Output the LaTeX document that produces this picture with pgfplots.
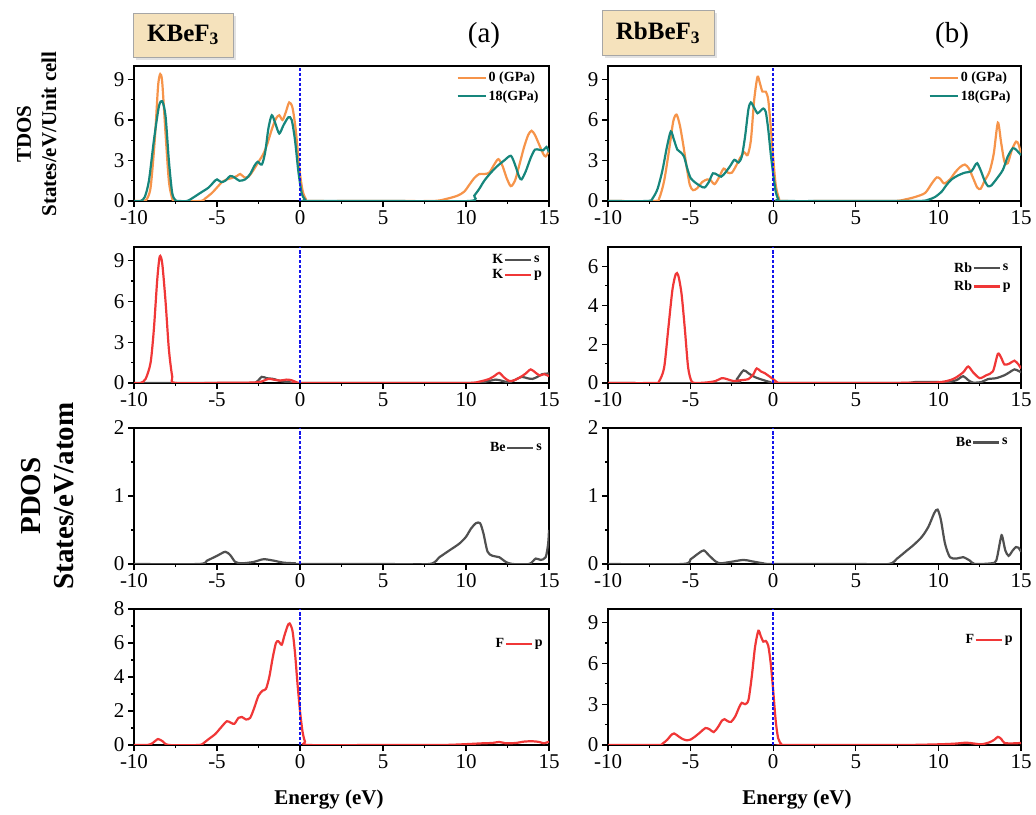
\documentclass[border=0pt]{standalone}
\usepackage{fontspec}
\setmainfont{Liberation Serif}
\usepackage{pgfplots}
\pgfplotsset{compat=1.18}
\usetikzlibrary{shadows}
\definecolor{corange}{RGB}{246,148,74}
\definecolor{cteal}{RGB}{22,134,124}
\definecolor{cred}{RGB}{240,55,55}
\definecolor{cgray}{RGB}{80,80,80}
\definecolor{cbox}{RGB}{245,226,188}
\definecolor{cfermi}{RGB}{20,20,235}
\pgfplotsset{
  dosax/.style={
    scale only axis,
    xmin=-10, xmax=15, ymin=0,
    xtick={-10,-5,0,5,10,15},
    minor x tick num=1, minor y tick num=1,
    tick align=outside,
    xtick pos=left, ytick pos=left,
    major tick length=6pt, minor tick length=3pt,
    every tick/.style={black, line width=1.1pt},
    axis line style={line width=1.6pt},
    tick label style={font=\fontsize{21}{23}\selectfont},
    /pgf/number format/assume math mode=true,
    legend style={draw=none, fill=none, inner sep=0pt, row sep=3pt,
      font=\bfseries\fontsize{14}{16}\selectfont, cells={anchor=west}},
    every axis plot/.append style={line width=2.2pt, smooth, tension=0.45},
  },
  fermi/.style={draw=cfermi, dash pattern=on 3pt off 2pt, line width=1.6pt, forget plot, smooth=false},
  lgtext/.style={legend image code/.code={\node[anchor=east,inner sep=0.5pt,text=black] at (0pt,0pt) {#1};\draw[##1] (0pt,0pt) -- (26pt,0pt);}},
  lgline/.style={legend image code/.code={\draw[##1] (0pt,0pt) -- (28pt,0pt);}},
}
\begin{document}
\begin{tikzpicture}[x=1pt,y=1pt]
\useasboundingbox (0,0) rectangle (1036,814);

% ---------------- Row 1 left: TDOS KBeF3
\begin{axis}[dosax, at={(134pt,613pt)}, width=415pt, height=135pt, ymax=10, ytick={0,3,6,9},
  legend style={at={(0.98,0.97)}, anchor=north east}, lgline]
\addplot[corange] coordinates {(-10,0)(-9.5,0)(-9.25,0.1)(-9.0,1.0)(-8.75,4.5)(-8.55,8.5)(-8.42,9.4)(-8.3,8.8)(-8.1,5.0)(-7.9,1.5)(-7.7,0.2)(-7.5,0)(-6.0,0)(-5.7,0.2)(-5.3,0.6)(-5.0,1.0)(-4.7,1.4)(-4.4,1.6)(-4.1,1.7)(-3.8,1.85)(-3.6,2.0)(-3.35,1.75)(-3.1,1.8)(-2.8,2.3)(-2.5,2.9)(-2.2,3.5)(-1.95,4.3)(-1.7,5.3)(-1.45,6.1)(-1.25,6.35)(-1.05,6.0)(-0.85,6.6)(-0.65,7.3)(-0.45,6.9)(-0.25,5.2)(-0.05,2.5)(0.15,0.8)(0.35,0.15)(0.6,0)(5,0)(8.0,0)(8.8,0.15)(9.5,0.4)(9.9,0.7)(10.2,1.2)(10.5,1.7)(10.8,2.0)(11.1,2.0)(11.4,2.1)(11.7,2.7)(11.95,3.1)(12.2,2.6)(12.45,1.7)(12.7,1.1)(12.95,1.5)(13.2,2.6)(13.5,4.0)(13.75,4.9)(13.95,5.2)(14.15,4.9)(14.4,4.2)(14.65,3.5)(14.8,3.3)(15,3.7)};
\addlegendentry{0 (GPa)}
\addplot[cteal] coordinates {(-10,0)(-9.6,0)(-9.35,0.3)(-9.1,1.5)(-8.8,4.5)(-8.5,7.0)(-8.3,7.4)(-8.1,6.3)(-7.9,3.0)(-7.7,0.6)(-7.5,0.05)(-7.3,0)(-6.8,0)(-6.5,0.2)(-6.0,0.6)(-5.5,1.0)(-5.2,1.4)(-5.0,1.6)(-4.75,1.4)(-4.5,1.5)(-4.2,1.85)(-3.95,1.75)(-3.65,1.5)(-3.3,1.6)(-3.0,2.0)(-2.75,2.6)(-2.55,2.9)(-2.3,2.7)(-2.1,3.6)(-1.9,5.4)(-1.7,6.35)(-1.5,5.8)(-1.25,5.0)(-1.0,5.6)(-0.7,6.2)(-0.5,6.0)(-0.3,4.5)(-0.1,2.2)(0.1,0.6)(0.3,0.1)(0.5,0)(5,0)(10.2,0)(10.5,0.4)(10.8,0.9)(11.1,1.5)(11.5,2.1)(11.9,2.6)(12.3,3.0)(12.7,3.35)(12.95,2.7)(13.2,1.8)(13.35,1.6)(13.6,2.2)(13.9,3.2)(14.15,3.8)(14.4,3.8)(14.65,3.75)(14.85,4.0)(15,3.6)};
\addlegendentry{18(GPa)}
\addplot[fermi] coordinates {(0,0)(0,10)};
\end{axis}

% ---------------- Row 1 right: TDOS RbBeF3
\begin{axis}[dosax, at={(608pt,613pt)}, width=413pt, height=135pt, ymax=10, ytick={0,3,6,9},
  legend style={at={(0.98,0.97)}, anchor=north east}, lgline]
\addplot[corange] coordinates {(-10,0)(-7.2,0)(-6.9,0.2)(-6.6,1.5)(-6.3,3.8)(-6.05,5.9)(-5.85,6.4)(-5.65,5.6)(-5.45,4.2)(-5.25,2.6)(-5.05,1.2)(-4.85,0.8)(-4.6,0.95)(-4.3,1.4)(-4.0,1.6)(-3.8,1.55)(-3.55,1.25)(-3.3,1.7)(-3.0,2.4)(-2.75,2.1)(-2.5,2.1)(-2.25,2.6)(-2.0,3.2)(-1.75,3.6)(-1.55,3.4)(-1.35,4.5)(-1.15,7.5)(-0.95,9.2)(-0.8,8.7)(-0.65,8.1)(-0.45,8.1)(-0.3,7.5)(-0.15,5.5)(0,3.2)(0.15,1.2)(0.35,0.2)(0.6,0)(4,0)(7.3,0)(8.0,0.12)(8.6,0.3)(9.2,0.6)(9.6,1.3)(9.9,1.75)(10.1,1.65)(10.35,1.3)(10.7,1.6)(11.0,2.1)(11.3,2.5)(11.6,2.7)(11.85,2.4)(12.1,1.7)(12.35,1.0)(12.55,0.9)(12.8,1.5)(13.1,2.2)(13.35,3.5)(13.6,5.8)(13.8,4.3)(14.0,2.9)(14.2,2.8)(14.45,3.8)(14.7,4.4)(14.85,4.2)(15,3.5)};
\addlegendentry{0 (GPa)}
\addplot[cteal] coordinates {(-10,0)(-7.6,0)(-7.3,0.2)(-7.0,0.9)(-6.7,2.3)(-6.45,3.9)(-6.2,5.15)(-6.0,4.5)(-5.8,3.8)(-5.6,3.6)(-5.4,3.3)(-5.2,2.4)(-5.0,1.7)(-4.7,1.35)(-4.4,1.1)(-4.15,1.0)(-3.9,1.4)(-3.65,2.05)(-3.4,1.95)(-3.15,1.8)(-2.9,2.1)(-2.6,2.6)(-2.35,3.05)(-2.1,2.85)(-1.9,3.3)(-1.7,4.8)(-1.5,6.8)(-1.35,7.3)(-1.15,6.9)(-0.95,6.5)(-0.75,6.7)(-0.6,6.85)(-0.45,6.6)(-0.3,5.3)(-0.15,3.5)(0,2.0)(0.15,0.7)(0.3,0.15)(0.5,0)(5,0)(8.8,0)(9.4,0.1)(9.8,0.3)(10.2,0.7)(10.5,1.2)(10.8,1.6)(11.2,1.9)(11.6,2.1)(12.0,2.2)(12.2,2.6)(12.35,2.8)(12.55,2.3)(12.8,1.5)(13.0,1.1)(13.2,1.15)(13.5,1.6)(13.9,2.3)(14.2,3.3)(14.5,3.9)(14.7,3.8)(15,3.4)};
\addlegendentry{18(GPa)}
\addplot[fermi] coordinates {(0,0)(0,10)};
\end{axis}

% ---------------- Row 2 left: K
\begin{axis}[dosax, at={(134pt,431pt)}, width=415pt, height=136pt, ymax=10, ytick={0,3,6,9},
  legend style={at={(0.988,0.95)}, anchor=north east}]
\addplot[cgray, lgtext=K] coordinates {(-10,0)(-3,0)(-2.6,0.1)(-2.3,0.45)(-2.0,0.35)(-1.6,0.3)(-1.2,0.15)(-0.6,0.05)(0,0)(5,0)(10.5,0)(11.2,0.1)(11.8,0.25)(12.2,0.15)(12.6,0.05)(13.0,0.25)(13.35,0.45)(13.7,0.35)(14.0,0.3)(14.3,0.45)(14.6,0.65)(15,0.7)};
\addlegendentry{s}
\addplot[cred, lgtext=K] coordinates {(-10,0)(-9.6,0)(-9.3,0.3)(-9.0,1.5)(-8.8,4.0)(-8.6,7.6)(-8.45,9.3)(-8.3,8.8)(-8.1,6.0)(-7.9,2.5)(-7.7,0.5)(-7.5,0)(-4.5,0.02)(-3,0.03)(-2.4,0.08)(-1.9,0.3)(-1.6,0.25)(-1.2,0.18)(-0.8,0.25)(-0.5,0.2)(-0.2,0.05)(0.1,0)(5,0)(10,0)(10.8,0.1)(11.4,0.3)(11.75,0.55)(12.0,0.75)(12.3,0.4)(12.6,0.15)(12.9,0.2)(13.3,0.45)(13.6,0.7)(13.9,1.0)(14.2,0.75)(14.45,0.55)(14.7,0.65)(15,0.5)};
\addlegendentry{p}
\addplot[fermi] coordinates {(0,0)(0,10)};
\end{axis}

% ---------------- Row 2 right: Rb
\begin{axis}[dosax, at={(608pt,431pt)}, width=413pt, height=136pt, ymax=7, ytick={0,2,4,6},
  legend style={at={(0.98,0.89)}, anchor=north east, row sep=6pt}]
\addplot[cgray, lgtext=Rb] coordinates {(-10,0)(-2.5,0)(-2.2,0.2)(-1.8,0.65)(-1.5,0.5)(-1.1,0.3)(-0.6,0.15)(-0.2,0.05)(0.2,0)(5,0)(8.0,0)(8.6,0.05)(9.6,0.05)(10.6,0.05)(11.1,0.15)(11.5,0.35)(11.8,0.15)(12.1,0.02)(12.6,0.05)(13.0,0.2)(13.5,0.25)(14.0,0.4)(14.3,0.55)(14.6,0.7)(14.85,0.62)(15,0.55)};
\addlegendentry{s}
\addplot[cred, lgtext=Rb] coordinates {(-10,0)(-7.2,0)(-6.9,0.1)(-6.6,0.8)(-6.35,2.8)(-6.1,4.8)(-5.9,5.6)(-5.75,5.55)(-5.55,4.6)(-5.35,2.8)(-5.15,0.8)(-4.95,0.1)(-4.7,0)(-4.0,0.03)(-3.5,0.1)(-3.1,0.25)(-2.8,0.2)(-2.4,0.1)(-1.9,0.15)(-1.5,0.2)(-1.2,0.45)(-1.0,0.75)(-0.75,0.6)(-0.5,0.5)(-0.25,0.35)(0,0.2)(0.25,0.03)(0.5,0)(5,0)(9.5,0.02)(10.5,0.1)(11.0,0.25)(11.5,0.55)(11.8,0.85)(12.1,0.55)(12.5,0.25)(12.9,0.4)(13.3,0.6)(13.6,1.5)(13.8,1.3)(14.0,0.95)(14.3,1.0)(14.6,1.15)(14.85,0.95)(15,0.75)};
\addlegendentry{p}
\addplot[fermi] coordinates {(0,0)(0,7)};
\end{axis}

% ---------------- Row 3 left: Be
\begin{axis}[dosax, at={(134pt,250pt)}, width=415pt, height=136pt, ymax=2, ytick={0,1,2},
  legend style={at={(0.988,0.90)}, anchor=north east}]
\addplot[cgray, lgtext=Be] coordinates {(-10,0)(-6.1,0)(-5.6,0.05)(-5.0,0.12)(-4.5,0.18)(-4.2,0.13)(-3.9,0.03)(-3.5,0.01)(-2.8,0.03)(-2.2,0.07)(-1.6,0.05)(-1.0,0.02)(-0.3,0.01)(0,0)(5,0)(7.8,0)(8.4,0.1)(9.0,0.2)(9.6,0.3)(10.0,0.4)(10.3,0.52)(10.6,0.6)(10.85,0.6)(11.05,0.45)(11.3,0.18)(11.6,0.12)(12.0,0.1)(12.4,0.03)(12.8,0)(13.8,0)(14.2,0.08)(14.5,0.06)(14.8,0.1)(14.95,0.3)(15,0.5)};
\addlegendentry{s}
\addplot[fermi] coordinates {(0,0)(0,2)};
\end{axis}

% ---------------- Row 3 right: Be
\begin{axis}[dosax, at={(608pt,250pt)}, width=413pt, height=136pt, ymax=2, ytick={0,1,2},
  legend style={at={(0.973,0.94)}, anchor=north east}]
\addplot[cgray, lgtext=Be] coordinates {(-10,0)(-5.5,0)(-5.0,0.07)(-4.5,0.16)(-4.2,0.2)(-3.9,0.13)(-3.5,0.04)(-3.2,0.01)(-2.6,0.03)(-1.8,0.06)(-1.3,0.04)(-0.6,0.01)(0,0)(5,0)(7.0,0)(7.5,0.08)(8.0,0.18)(8.5,0.28)(9.0,0.4)(9.4,0.55)(9.75,0.75)(9.95,0.8)(10.15,0.65)(10.4,0.3)(10.7,0.1)(11.1,0.08)(11.5,0.1)(11.9,0.05)(12.2,0)(13.2,0.01)(13.5,0.05)(13.75,0.35)(13.85,0.42)(14.05,0.2)(14.25,0.12)(14.5,0.2)(14.7,0.25)(14.85,0.24)(15,0.18)};
\addlegendentry{s}
\addplot[fermi] coordinates {(0,0)(0,2)};
\end{axis}

% ---------------- Row 4 left: F
\begin{axis}[dosax, at={(134pt,69pt)}, width=415pt, height=136pt, ymax=8, ytick={0,2,4,6,8},
  legend style={at={(0.99,0.79)}, anchor=north east}]
\addplot[cred, lgtext=F] coordinates {(-10,0)(-9.2,0)(-8.9,0.1)(-8.55,0.35)(-8.25,0.2)(-7.9,0)(-6.1,0)(-5.8,0.12)(-5.5,0.35)(-5.1,0.65)(-4.7,1.1)(-4.4,1.4)(-4.15,1.3)(-3.95,1.25)(-3.7,1.6)(-3.5,1.65)(-3.25,1.5)(-3.0,1.6)(-2.75,2.2)(-2.5,2.9)(-2.25,3.2)(-2.05,3.3)(-1.85,4.0)(-1.65,5.1)(-1.45,6.0)(-1.3,6.1)(-1.1,5.9)(-0.95,6.4)(-0.75,7.0)(-0.62,7.15)(-0.45,6.7)(-0.3,5.4)(-0.15,3.6)(0,2.0)(0.15,0.8)(0.3,0.2)(0.5,0)(5,0)(8.5,0)(10.0,0.05)(11.0,0.1)(11.6,0.12)(12.0,0.18)(12.4,0.1)(13.0,0.12)(13.5,0.2)(14.0,0.22)(14.4,0.18)(14.7,0.1)(15,0.2)};
\addlegendentry{p}
\addplot[fermi] coordinates {(0,0)(0,8)};
\end{axis}

% ---------------- Row 4 right: F
\begin{axis}[dosax, at={(608pt,69pt)}, width=413pt, height=136pt, ymax=10, ytick={0,3,6,9},
  legend style={at={(0.985,0.82)}, anchor=north east}]
\addplot[cred, lgtext=F] coordinates {(-10,0)(-7.0,0)(-6.7,0.1)(-6.4,0.4)(-6.2,0.7)(-6.0,0.85)(-5.75,0.65)(-5.5,0.45)(-5.25,0.35)(-5.0,0.4)(-4.7,0.65)(-4.4,0.95)(-4.1,1.25)(-3.85,1.15)(-3.6,0.95)(-3.35,1.3)(-3.1,1.8)(-2.95,1.9)(-2.75,1.75)(-2.55,1.7)(-2.3,2.1)(-2.05,2.8)(-1.9,3.1)(-1.7,3.0)(-1.5,3.3)(-1.3,5.0)(-1.1,7.2)(-0.9,8.4)(-0.75,8.0)(-0.6,7.6)(-0.45,7.65)(-0.3,7.3)(-0.15,6.0)(0,4.0)(0.15,1.8)(0.3,0.5)(0.5,0.05)(0.7,0)(5,0)(8.0,0)(10.0,0.05)(11.0,0.1)(11.7,0.17)(12.2,0.1)(12.6,0.05)(13.1,0.2)(13.4,0.4)(13.6,0.6)(13.8,0.45)(14.0,0.15)(14.5,0.12)(15,0.15)};
\addlegendentry{p}
\addplot[fermi] coordinates {(0,0)(0,10)};
\end{axis}

% ---------------- titles and labels
\node[draw=gray!70, fill=cbox, minimum width=100pt, minimum height=44pt, inner sep=0pt,
  drop shadow={shadow xshift=3pt, shadow yshift=-3pt, fill=gray!45}]
  at (183,779) {\bfseries\fontsize{25}{28}\selectfont KBeF\textsubscript{3}};
\node[draw=gray!70, fill=cbox, minimum width=112pt, minimum height=45pt, inner sep=0pt,
  drop shadow={shadow xshift=3pt, shadow yshift=-3pt, fill=gray!45}]
  at (658,781) {\bfseries\fontsize{25}{28}\selectfont RbBeF\textsubscript{3}};
\node at (484,778) {\fontsize{29}{32}\selectfont (a)};
\node at (952,778) {\fontsize{29}{32}\selectfont (b)};
\node[rotate=90] at (24,680) {\bfseries\fontsize{21}{23}\selectfont TDOS};
\node[rotate=90] at (49,680) {\bfseries\fontsize{21}{23}\selectfont States/eV/Unit cell};
\node[rotate=90] at (31,318) {\bfseries\fontsize{29}{32}\selectfont PDOS};
\node[rotate=90] at (64,318) {\bfseries\fontsize{29}{32}\selectfont States/eV/atom};
\node at (329,14) {\bfseries\fontsize{21}{24}\selectfont Energy (eV)};
\node at (797,14) {\bfseries\fontsize{21}{24}\selectfont Energy (eV)};
\end{tikzpicture}
\end{document}
